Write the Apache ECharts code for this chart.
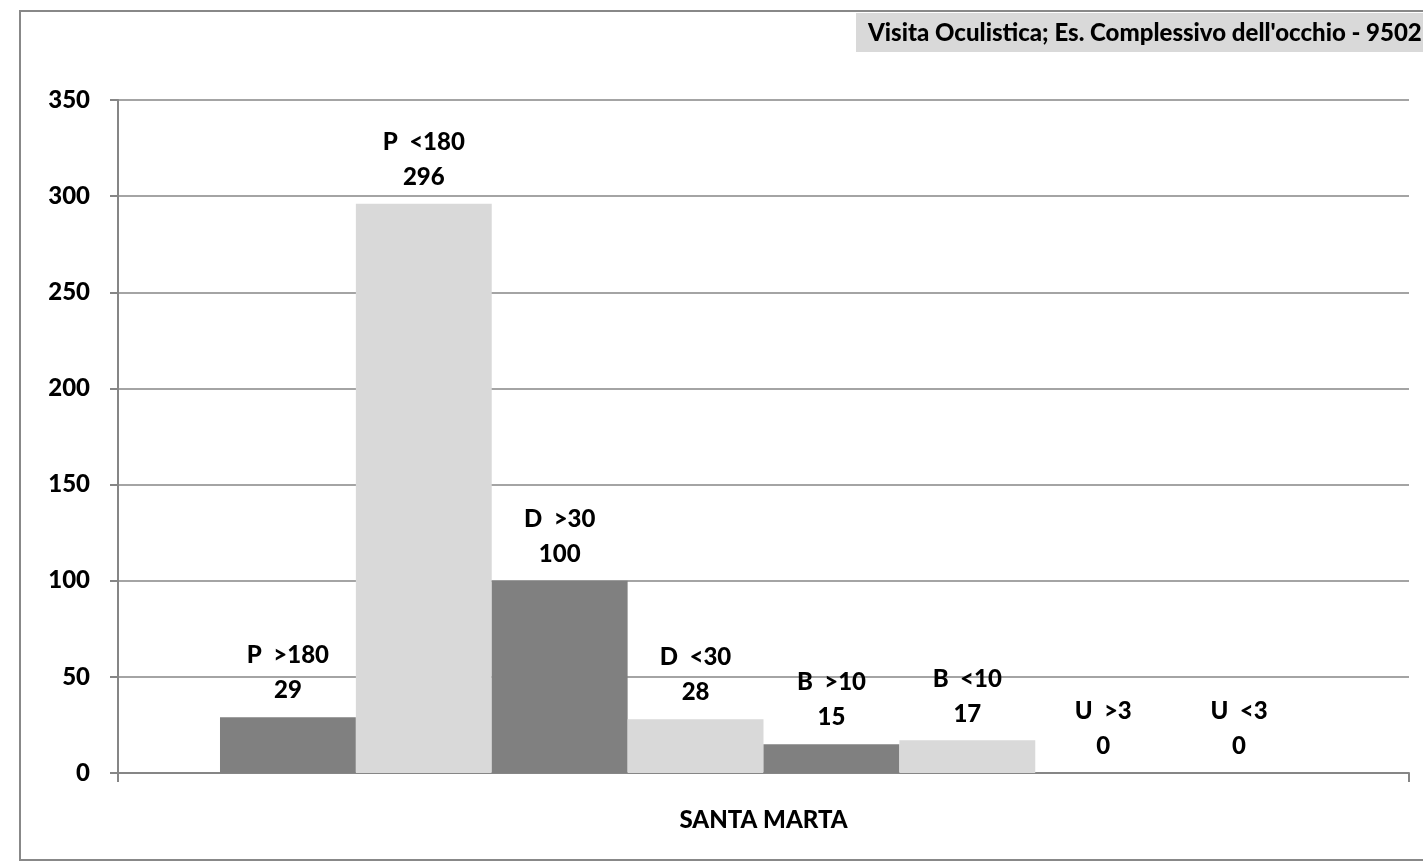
<!DOCTYPE html>
<html>
<head>
<meta charset="utf-8">
<script src="https://cdn.jsdelivr.net/npm/echarts@6/dist/echarts.min.js"></script>
<style>
html,body{margin:0;padding:0;background:#fff;}
#chart{width:1423px;height:861px;}
</style>
</head>
<body>
<div id="chart"></div>
<script>
const categories = ['SANTA MARTA'];
const seriesNames = ['P  >180', 'P  <180', 'D  >30', 'D  <30', 'B  >10', 'B  <10', 'U  >3', 'U  <3'];
const seriesValues = [[29], [296], [100], [28], [15], [17], [0], [0]];
const seriesColors = ['#808080', '#d9d9d9', '#808080', '#d9d9d9', '#808080', '#d9d9d9', '#808080', '#d9d9d9'];
const yTicks = [0, 50, 100, 150, 200, 250, 300, 350];
const titleText = "Visita Oculistica; Es. Complessivo dell'occhio - 9502";

const FONT = 'Lato, "Open Sans", sans-serif';
const FS = 24;
const FW = 900;
const chart = echarts.init(document.getElementById('chart'), null, {renderer: 'canvas'});

const series = seriesNames.map((name, i) => ({
  name: name,
  type: 'bar',
  data: seriesValues[i],
  barGap: '0%',
  barCategoryGap: '15.8%',
  itemStyle: {color: seriesColors[i]},
  label: {
    show: true,
    position: 'top',
    distance: 9,
    formatter: '{a}\n{c}',
    color: '#000',
    fontFamily: FONT,
    fontWeight: FW,
    fontSize: FS,
    lineHeight: 35,
    align: 'center'
  }
}));

chart.setOption({
  animation: false,
  backgroundColor: '#fff',
  title: {
    text: titleText,
    left: 856,
    top: 13,
    backgroundColor: '#d9d9d9',
    padding: [8, 80, 7, 12],
    textStyle: {fontFamily: FONT, fontWeight: FW, fontSize: FS, lineHeight: 24, color: '#000'}
  },
  graphic: [{
    type: 'rect',
    shape: {x: 20, y: 11, width: 1440, height: 849},
    style: {fill: null, stroke: '#888', lineWidth: 2},
    silent: true,
    z: -1
  }],
  grid: {left: 118, right: 14, top: 100, bottom: 88},
  xAxis: {
    type: 'category',
    data: categories,
    axisLine: {lineStyle: {color: '#868686', width: 2}},
    axisTick: {show: true, alignWithLabel: false, length: 9, lineStyle: {color: '#868686', width: 2}},
    axisLabel: {margin: 35, color: '#000', fontFamily: FONT, fontWeight: FW, fontSize: FS}
  },
  yAxis: {
    type: 'value',
    min: yTicks[0],
    max: yTicks[yTicks.length - 1],
    interval: 50,
    axisLine: {show: true, lineStyle: {color: '#868686', width: 2}},
    axisTick: {show: true, length: 8, lineStyle: {color: '#868686', width: 2}},
    splitLine: {show: true, lineStyle: {color: '#868686', width: 1.5}},
    axisLabel: {margin: 28, color: '#000', fontFamily: FONT, fontWeight: FW, fontSize: FS}
  },
  series: series
});
</script>
</body>
</html>
